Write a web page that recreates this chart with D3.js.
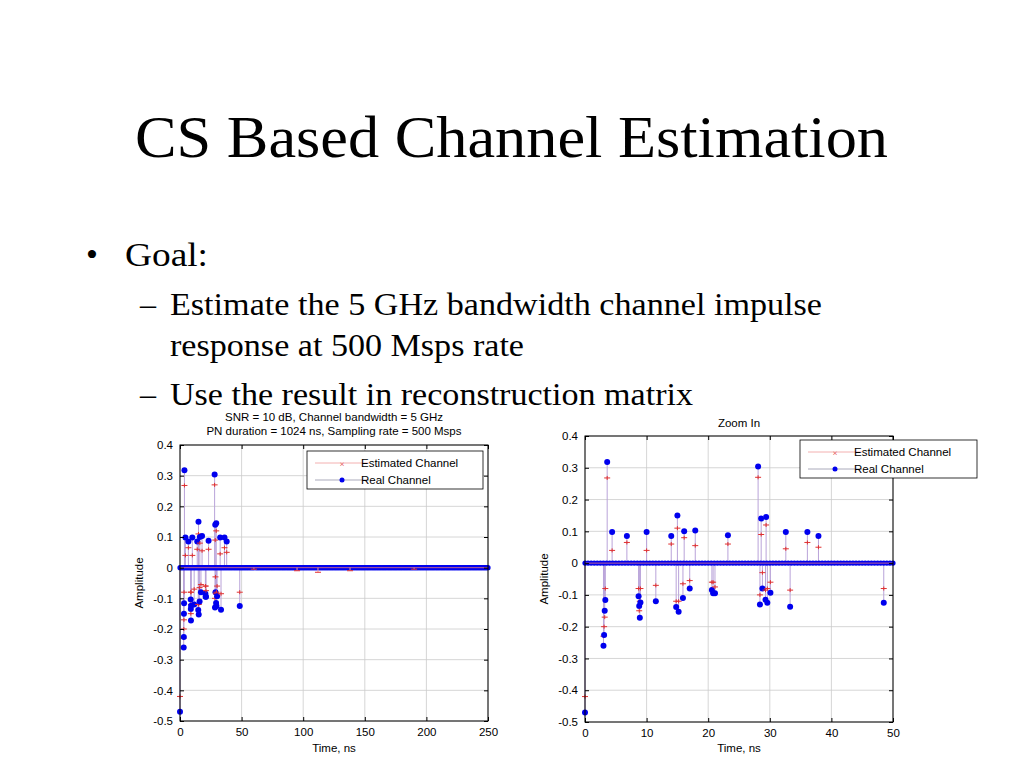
<!DOCTYPE html>
<html><head><meta charset="utf-8">
<script src="https://cdn.jsdelivr.net/npm/d3@7"></script>
<style>body{margin:0;background:#fff}svg{display:block}</style>
</head><body><svg id="s" width="1024" height="768"></svg>
<script>
// Real channel non-zero taps: time (ns), amplitude
const realT = [0,3.0,3.1,3.2,3.3,3.6,4.4,6.8,8.7,8.8,8.9,9.0,10.0,11.5,14.0,14.8,15.0,15.2,15.9,16.1,17.0,17.9,20.6,20.8,21.1,23.2,28.1,28.4,28.6,28.8,29.3,29.4,29.6,30.1,32.6,33.3,36.1,37.9,48.5];
const realV = [-0.47,-0.26,-0.226,-0.15,-0.116,0.318,0.098,0.085,-0.104,-0.135,-0.172,-0.124,0.098,-0.12,0.085,-0.138,0.15,-0.153,-0.11,0.1,-0.08,0.103,-0.085,-0.095,-0.095,0.088,0.304,-0.13,0.14,-0.08,-0.115,0.145,-0.125,-0.093,0.098,-0.137,0.098,0.085,-0.125];
const estV  = [-0.42,-0.23,-0.2,-0.17,-0.08,0.268,0.04,0.065,-0.08,-0.15,-0.12,-0.08,0.04,-0.07,0.06,-0.12,0.11,-0.12,-0.065,0.08,-0.055,0.055,-0.06,-0.06,-0.075,0.06,0.27,-0.1,0.09,-0.03,-0.085,0.12,-0.08,-0.06,0.045,-0.085,0.065,0.05,-0.08];
// Small estimated blips beyond the channel
const extraT = [60,95,112,138,190];
const extraV = [-0.005,-0.01,-0.015,-0.01,-0.005];
const yTicks = [0.4,0.3,0.2,0.1,0,-0.1,-0.2,-0.3,-0.4,-0.5];
const leftX = [0,50,100,150,200,250];
const rightX = [0,10,20,30,40,50];
const seriesNames = ["Estimated Channel","Real Channel"];

const svg = d3.select("#s");
const serif = "'Liberation Serif','Times New Roman',serif";
function txt(s,x,y,size,len){const t=svg.append("text").attr("x",x).attr("y",y).attr("font-family",serif).attr("font-size",size).text(s);if(len)t.attr("textLength",len).attr("lengthAdjust","spacingAndGlyphs");return t;}
txt("CS Based Channel Estimation",135,157,60,753);
txt("•",86,266,34);
txt("Goal:",125,266,34,83);
txt("–",140,315,32);
txt("Estimate the 5 GHz bandwidth channel impulse",170,315,32,652);
txt("response at 500 Msps rate",170,356,32,354);
txt("–",140,405,32);
txt("Use the result in reconstruction matrix",170,405,32,523);

function chart(o){
  const g = svg.append("g");
  const x = d3.scaleLinear().domain(o.xd).range([o.x0,o.x1]);
  const y = d3.scaleLinear().domain([-0.5,0.4]).range([o.y1,o.y0]);
  g.append("rect").attr("x",o.x0).attr("y",o.y0).attr("width",o.x1-o.x0).attr("height",o.y1-o.y0).attr("fill","#fff");
  o.xt.forEach(t=>g.append("line").attr("x1",x(t)).attr("x2",x(t)).attr("y1",o.y0).attr("y2",o.y1).attr("stroke","#ccc").attr("stroke-width",0.8));
  yTicks.forEach(t=>g.append("line").attr("y1",y(t)).attr("y2",y(t)).attr("x1",o.x0).attr("x2",o.x1).attr("stroke","#ccc").attr("stroke-width",0.8));
  const clip = "c"+o.x0;
  svg.append("clipPath").attr("id",clip).append("rect").attr("x",o.x0-4).attr("y",o.y0-4).attr("width",o.x1-o.x0+8).attr("height",o.y1-o.y0+8);
  const p = g.append("g").attr("clip-path","url(#"+clip+")");
  const grid = d3.range(o.xd[0],o.xd[1]+0.001,o.step);
  realT.forEach((t,i)=>{
    p.append("line").attr("x1",x(t)).attr("x2",x(t)).attr("y1",y(0)).attr("y2",y(realV[i])).attr("stroke","#b9a3d9").attr("stroke-width",1);
  });
  p.selectAll(".z").data(grid).join("circle").attr("cx",d=>x(d)).attr("cy",y(0)).attr("r",2.6).attr("fill","#0000ee");
  p.append("line").attr("x1",o.x0).attr("x2",o.x1).attr("y1",y(0)).attr("y2",y(0)).attr("stroke","#e77").attr("stroke-width",0.8);
  realT.forEach((t,i)=>{
    p.append("circle").attr("cx",x(t)).attr("cy",y(realV[i])).attr("r",3).attr("fill","#0000ee");
    p.append("path").attr("d",`M${x(t)-3},${y(estV[i])}h6M${x(t)},${y(estV[i])-2}v4`).attr("stroke","#e03030").attr("stroke-width",1);
  });
  extraT.forEach((t,i)=>{
    p.append("line").attr("x1",x(t)).attr("x2",x(t)).attr("y1",y(0)).attr("y2",y(extraV[i])).attr("stroke","#e99");
    p.append("path").attr("d",`M${x(t)-3},${y(extraV[i])}h6`).attr("stroke","#e03030");
  });
  g.append("rect").attr("x",o.x0).attr("y",o.y0).attr("width",o.x1-o.x0).attr("height",o.y1-o.y0).attr("fill","none").attr("stroke","#000").attr("stroke-width",1);
  const fs = a=>{a.select(".domain").remove();a.selectAll("text").attr("font-size",11.5).attr("font-family","Liberation Sans,Arial").attr("fill","#000");};
  g.append("g").attr("transform",`translate(0,${o.y1})`).call(d3.axisBottom(x).tickValues(o.xt).tickSizeInner(-4).tickSizeOuter(0).tickPadding(7)).call(fs);
  g.append("g").attr("transform",`translate(0,${o.y0})`).call(d3.axisTop(x).tickValues(o.xt).tickSizeInner(-4).tickSizeOuter(0).tickFormat("")).select(".domain").remove();
  g.append("g").attr("transform",`translate(${o.x0},0)`).call(d3.axisLeft(y).tickValues(yTicks).tickSizeInner(-4).tickSizeOuter(0).tickPadding(7).tickFormat(d=>d===0?"0":d3.format(".1f")(d).replace("−","-"))).call(fs);
  g.append("g").attr("transform",`translate(${o.x1},0)`).call(d3.axisRight(y).tickValues(yTicks).tickSizeInner(-4).tickSizeOuter(0).tickFormat("")).select(".domain").remove();
  o.title.forEach((t,i)=>g.append("text").attr("x",(o.x0+o.x1)/2).attr("y",o.ty+i*14).attr("text-anchor","middle").attr("font-family","Liberation Sans,Arial").attr("font-size",11.5).text(t));
  g.append("text").attr("x",(o.x0+o.x1)/2).attr("y",752).attr("text-anchor","middle").attr("font-family","Liberation Sans,Arial").attr("font-size",11.5).text("Time, ns");
  g.append("text").attr("transform",`translate(${o.x0-37},${(o.y0+o.y1)/2}) rotate(-90)`).attr("text-anchor","middle").attr("font-family","Liberation Sans,Arial").attr("font-size",11.5).text("Amplitude");
  const L=o.leg;
  g.append("rect").attr("x",L[0]).attr("y",L[1]).attr("width",L[2]).attr("height",38).attr("fill","#fff").attr("stroke","#000").attr("stroke-width",0.8);
  seriesNames.forEach((n,i)=>{
    const yy=L[1]+12+i*17;
    g.append("line").attr("x1",L[0]+8).attr("x2",L[0]+62).attr("y1",yy).attr("y2",yy).attr("stroke",i?"#aab":"#f3b0b0");
    if(i) g.append("circle").attr("cx",L[0]+35).attr("cy",yy).attr("r",2.5).attr("fill","#0000ee");
    else g.append("text").attr("x",L[0]+35).attr("y",yy+4).attr("text-anchor","middle").attr("font-size",9).attr("fill","#e03030").text("×");
    g.append("text").attr("x",L[0]+54).attr("y",yy+4).attr("font-family","Liberation Sans,Arial").attr("font-size",11.5).text(n);
  });
}
chart({x0:180,x1:488,y0:445,y1:721,xd:[0,250],xt:leftX,step:1,title:["SNR = 10 dB, Channel bandwidth = 5 GHz","PN duration = 1024 ns, Sampling rate = 500 Msps"],ty:421,leg:[307,451,176]});
chart({x0:585,x1:893,y0:436,y1:722,xd:[0,50],xt:rightX,step:0.5,title:["Zoom In"],ty:427,leg:[800,440,177]});
</script></body></html>
